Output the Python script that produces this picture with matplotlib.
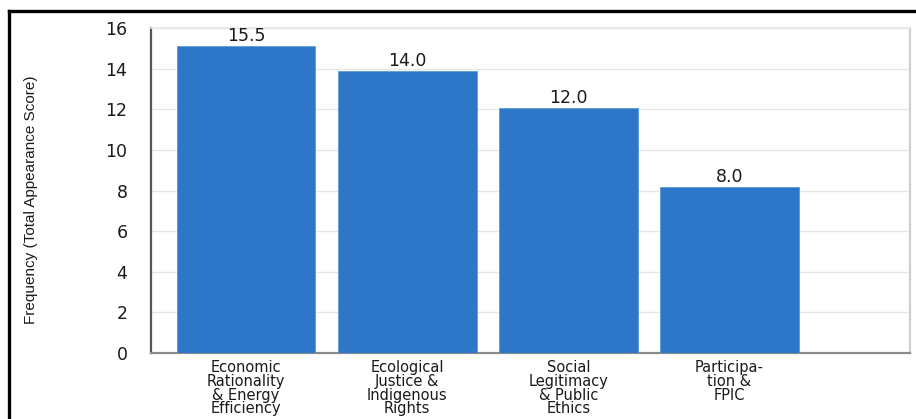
import matplotlib

matplotlib.use("Agg")
import matplotlib.pyplot as plt
from matplotlib.lines import Line2D

categories = [
    "Economic\nRationality\n& Energy\nEfficiency",
    "Ecological\nJustice &\nIndigenous\nRights",
    "Social\nLegitimacy\n& Public\nEthics",
    "Participa-\ntion &\nFPIC",
]
# bar heights as drawn vs. the numbers printed above them
heights = [15.1, 13.9, 12.05, 8.15]
value_labels = ["15.5", "14.0", "12.0", "8.0"]
yticks = [0, 2, 4, 6, 8, 10, 12, 14, 16]

BAR_COLOR = "#2e76c7"
TEXT = "#1a1a1a"

fig = plt.figure(figsize=(9.16, 4.19), dpi=100)
ax = fig.add_axes([151 / 916, 1 - 353 / 419, 759 / 916, 325 / 419])

x = range(len(categories))
ax.bar(x, heights, width=0.86, color=BAR_COLOR, edgecolor="#5a9ad8", linewidth=0.6, zorder=3)
for xi, h, lab in zip(x, heights, value_labels):
    ax.text(xi, h + 0.05, lab, ha="center", va="bottom", fontsize=12.5,
            family="DejaVu Sans", color=TEXT)

ax.set_xlim(-0.59, 4.12)
ax.set_ylim(0, 16)
ax.set_yticks(yticks)
ax.set_yticklabels([str(v) for v in yticks], fontsize=12.5, family="DejaVu Sans", color=TEXT)
ax.set_xticks(list(x))
ax.set_xticklabels(categories, fontsize=10.5, family="DejaVu Sans", color=TEXT, linespacing=0.9)
ax.tick_params(axis="y", length=0, pad=17)
ax.tick_params(axis="x", length=0, pad=5)

ax.grid(axis="y", color="#e6e6e6", linewidth=1.0, zorder=0)
ax.set_axisbelow(True)
ax.spines["left"].set_color("#555555")
ax.spines["left"].set_linewidth(1.6)
ax.spines["bottom"].set_color("#8a8a8a")
ax.spines["bottom"].set_linewidth(1.6)
ax.spines["right"].set_color("#cfcfcf")
ax.spines["right"].set_linewidth(1.6)
ax.spines["top"].set_color("#e8e8e8")
ax.spines["top"].set_linewidth(1.2)

ax.set_ylabel("Frequency (Total Appearance Score)", fontsize=11,
              family="Liberation Sans", color=TEXT)
ax.yaxis.set_label_coords(-0.149, 0.47)

# black frame on the top and left edges of the picture
fig.add_artist(Line2D([9 / 916, 1.0], [1 - 11 / 419, 1 - 11 / 419],
                      transform=fig.transFigure, color="black", linewidth=2.4))
fig.add_artist(Line2D([9 / 916, 9 / 916], [0, 1 - 11 / 419],
                      transform=fig.transFigure, color="black", linewidth=2.4))

fig.savefig("out.png", dpi=100, facecolor="white")
